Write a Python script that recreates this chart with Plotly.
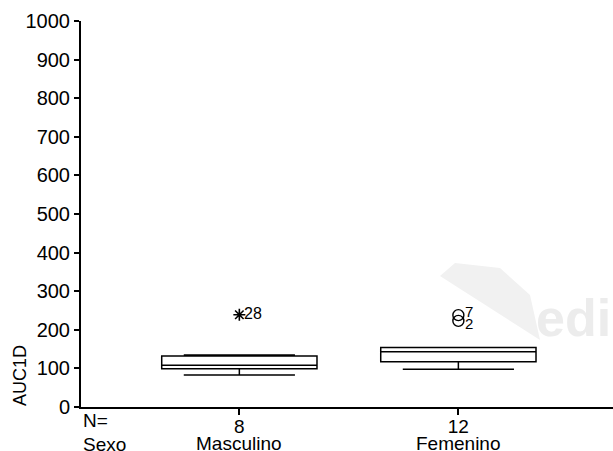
import plotly.graph_objects as go

# ---- data ----
categories = ["Masculino", "Femenino"]
n_values = [8, 12]
cat_pos = [1, 2]
q1 = [99, 117.5]
median = [108, 143]
q3 = [132, 154]
lower_whisker = [83, 98]
upper_whisker = [135, 154]

extreme_x = [1]
extreme_y = [239]
extreme_labels = ["28"]

outlier_x = [2, 2]
outlier_y = [238, 223]
outlier_labels = ["7", "2"]

y_ticks = list(range(0, 1001, 100))

FONT = "Liberation Sans, Arial, sans-serif"

fig = go.Figure()

# faint watermark logo (background)
def px(xp, yp):
    return (xp - 81) / 532, (407 - yp) / 386
logo = [(440, 276), (455, 263), (500, 268), (530, 295), (540, 340)]
path = "M " + " L ".join(f"{px(a, b)[0]:.4f},{px(a, b)[1]:.4f}" for a, b in logo) + " Z"
fig.add_shape(type="path", path=path, xref="paper", yref="paper",
              fillcolor="#f1f1f1", line=dict(width=0), layer="below")

for i, cat in enumerate(categories):
    fig.add_trace(go.Box(
        x=[cat_pos[i]], q1=[q1[i]], median=[median[i]], q3=[q3[i]],
        lowerfence=[lower_whisker[i]], upperfence=[upper_whisker[i]],
        width=0.709, whiskerwidth=0.716, boxpoints=False,
        line=dict(color="black", width=1.5), fillcolor="white",
        name=cat, showlegend=False, hoverinfo="skip",
    ))

fig.add_trace(go.Scatter(
    x=extreme_x, y=extreme_y, mode="markers", showlegend=False,
    marker=dict(symbol="asterisk-open", size=10, color="black",
                line=dict(color="black", width=1.6)),
))
fig.add_trace(go.Scatter(
    x=outlier_x, y=outlier_y, mode="markers", showlegend=False,
    marker=dict(symbol="circle-open", size=11, color="black",
                line=dict(color="black", width=1.4)),
))

for x, y, t in zip(extreme_x, extreme_y, extreme_labels):
    fig.add_annotation(x=x, y=y, text=t, showarrow=False, xanchor="left",
                       yanchor="middle", xshift=3, yshift=1,
                       font=dict(family=FONT, size=16, color="black"))
shifts = [(5, 4), (5, -3)]
for (x, y, t), (xs, ys) in zip(zip(outlier_x, outlier_y, outlier_labels), shifts):
    fig.add_annotation(x=x, y=y, text=t, showarrow=False, xanchor="left",
                       yanchor="middle", xshift=xs, yshift=ys,
                       font=dict(family=FONT, size=15, color="black"))

# watermark text
fig.add_annotation(xref="paper", yref="paper", x=1.0, y=0.2, xanchor="left",
                   yanchor="middle", xshift=-79, yshift=12, text="<b>edig</b>",
                   showarrow=False,
                   font=dict(family="Liberation Sans Narrow, Liberation Sans", size=52,
                             color="#ececec"))

# y-axis title
fig.add_annotation(xref="paper", yref="y", x=0, y=80, xshift=-61, text="AUC1D",
                   textangle=-90, showarrow=False, xanchor="center", yanchor="middle",
                   font=dict(family=FONT, size=18, color="black"))

# category names (second row under the N counts)
for xp, c in zip(cat_pos, categories):
    fig.add_annotation(xref="x", yref="paper", x=xp, y=0, yshift=-36,
                       xanchor="center", yanchor="middle", text=c, showarrow=False,
                       font=dict(family=FONT, size=19, color="black"))

# left labels for rows
fig.add_annotation(xref="paper", yref="paper", x=0, y=0, xanchor="left",
                   yanchor="middle", yshift=-13, text="N=", showarrow=False,
                   font=dict(family=FONT, size=19, color="black"))
fig.add_annotation(xref="paper", yref="paper", x=0, y=0, xanchor="left",
                   yanchor="middle", yshift=-37, text="Sexo", showarrow=False,
                   font=dict(family=FONT, size=19, color="black"))

fig.update_layout(
    width=613, height=451,
    margin=dict(l=81, r=0, t=21, b=44),
    paper_bgcolor="white", plot_bgcolor="white",
    font=dict(family=FONT, size=19, color="black"),
    xaxis=dict(range=[0.277, 2.706], tickvals=cat_pos,
               ticktext=[str(n) for n in n_values],
               showline=True, linecolor="black", linewidth=2, ticks="outside",
               ticklen=6, tickwidth=1.5, tickcolor="black", showgrid=False,
               zeroline=False, fixedrange=True, automargin=False,
               ticklabelstandoff=-5, tickfont=dict(size=19)),
    yaxis=dict(range=[0, 1000], tickvals=y_ticks, showline=True, linecolor="black",
               linewidth=2, ticks="outside", ticklen=5, tickwidth=1.5,
               tickcolor="black", showgrid=False, zeroline=False, fixedrange=True,
               automargin=False, tickfont=dict(size=20)),
)

fig.write_html("out.html")
